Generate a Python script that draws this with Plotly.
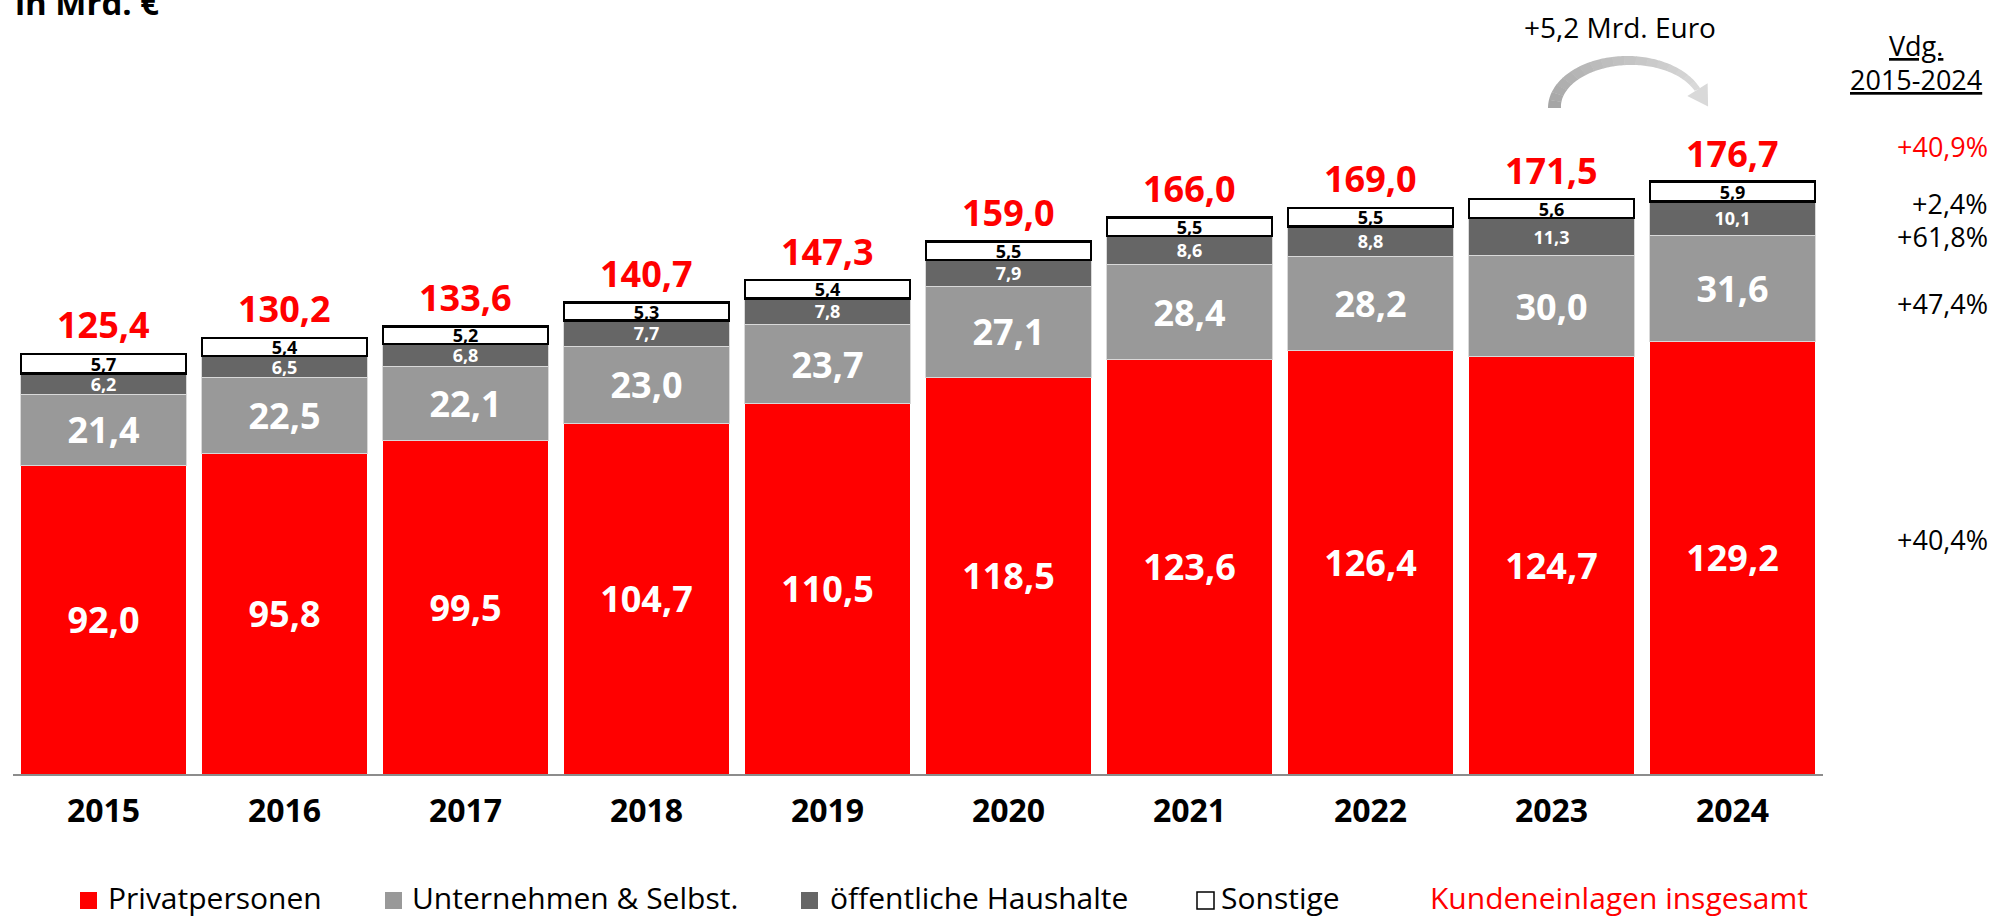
import math
import plotly.graph_objects as go

# ---------------- data ----------------
years = ["2015", "2016", "2017", "2018", "2019", "2020", "2021", "2022", "2023", "2024"]
privat = [92.0, 95.8, 99.5, 104.7, 110.5, 118.5, 123.6, 126.4, 124.7, 129.2]
unternehmen = [21.4, 22.5, 22.1, 23.0, 23.7, 27.1, 28.4, 28.2, 30.0, 31.6]
oeffentlich = [6.2, 6.5, 6.8, 7.7, 7.8, 7.9, 8.6, 8.8, 11.3, 10.1]
sonstige = [5.7, 5.4, 5.2, 5.3, 5.4, 5.5, 5.5, 5.5, 5.6, 5.9]
totals = [125.4, 130.2, 133.6, 140.7, 147.3, 159.0, 166.0, 169.0, 171.5, 176.7]
series_names = ["Privatpersonen", "Unternehmen & Selbst.", "öffentliche Haushalte", "Sonstige"]
total_name = "Kundeneinlagen insgesamt"
change_header = ["Vdg.", "2015-2024"]
change_labels = ["+40,9%", "+2,4%", "+61,8%", "+47,4%", "+40,4%"]
diff_label = "+5,2 Mrd. Euro"
unit_label = "in Mrd. €"

# ---------------- layout geometry ----------------
W, H = 1995, 917
L, R, T, B = 13, 172, 104, 143
PW, PH = W - L - R, H - T - B
YMAX = 200
FONT = "Open Sans"
RED = "#FF0000"
LGREY = "#999999"
DGREY = "#666666"


def pxx(x):
    return (x - L) / PW


def pxy(y):
    return (H - B - y) / PH


def fmt(v):
    return f"{v:.1f}".replace(".", ",")


fig = go.Figure()


def add_bar(vals, name, color, line_color, line_w, txt_color, txt_size):
    fig.add_trace(go.Bar(
        x=years, y=vals, name=name,
        marker=dict(color=color, line=dict(color=line_color, width=line_w)),
        text=[fmt(v) for v in vals], textposition="inside", insidetextanchor="middle",
        textangle=0, constraintext="none",
        textfont=dict(family=FONT, size=txt_size, color=txt_color, weight="bold"),
        hoverinfo="skip", showlegend=False,
    ))


add_bar(privat, series_names[0], RED, RED, 0, "white", 36)
add_bar(unternehmen, series_names[1], LGREY, "#d9d9d9", 1, "white", 36)
add_bar(oeffentlich, series_names[2], DGREY, "#d9d9d9", 1, "white", 18)
add_bar(sonstige, series_names[3], "white", "black", 2.5, "black", 18)

ann = []
# totals above bars
for i, tot in enumerate(totals):
    ann.append(dict(x=i, y=tot, xref="x", yref="y", text=fmt(tot), showarrow=False,
                    yanchor="middle", yshift=29,
                    font=dict(family=FONT, size=36, color=RED, weight="bold")))

# change column at right
change_py = [146, 203, 236, 303, 539]
for i, (lab, yy) in enumerate(zip(change_labels, change_py)):
    ann.append(dict(x=pxx(1990), y=pxy(yy), xref="paper", yref="paper", text=lab,
                    showarrow=False, xanchor="right", yanchor="middle",
                    font=dict(family=FONT, size=27, color=RED if i == 0 else "black")))
for lab, yy in zip(change_header, [45, 79]):
    ann.append(dict(x=pxx(1916), y=pxy(yy), xref="paper", yref="paper", text=lab,
                    showarrow=False, xanchor="center", yanchor="middle",
                    font=dict(family=FONT, size=27, color="black", lineposition="under")))

# unit label (clipped at top)
ann.append(dict(x=0, y=1, xref="paper", yref="paper", text=unit_label, showarrow=False,
                xanchor="left", yanchor="bottom", yshift=77,
                font=dict(family=FONT, size=33, color="black", weight="bold")))

# diff label
ann.append(dict(x=pxx(1620), y=pxy(27), xref="paper", yref="paper", text=diff_label,
                showarrow=False, xanchor="center", yanchor="middle",
                font=dict(family=FONT, size=28, color="black")))

shapes = []
# curved arrow with gradient
cx, cy, rxo, ryo = 1627, 108, 79, 52
th0, th1 = 180.0, 22.0
t0, t1 = 13.0, 6.0
N = 18
c0, c1 = (166, 166, 166), (217, 217, 217)


def arcpts(ta, tb, n=6):
    outer, inner = [], []
    for k in range(n + 1):
        th = ta + (tb - ta) * k / n
        f = (th0 - th) / (th0 - th1)
        t = t0 + (t1 - t0) * f
        r = math.radians(th)
        outer.append((cx + rxo * math.cos(r), cy - ryo * math.sin(r)))
        inner.append((cx + (rxo - t) * math.cos(r), cy - (ryo - t) * math.sin(r)))
    return outer + inner[::-1]


def path(pts):
    return "M " + " L ".join(f"{pxx(x):.5f},{pxy(y):.5f}" for x, y in pts) + " Z"


for s in range(N):
    ta = th0 + (th1 - th0) * s / N
    tb = th0 + (th1 - th0) * (s + 1.05) / N if s < N - 1 else th1
    f = s / (N - 1)
    col = "rgb(%d,%d,%d)" % tuple(int(c0[j] + (c1[j] - c0[j]) * f) for j in range(3))
    shapes.append(dict(type="path", xref="paper", yref="paper", path=path(arcpts(ta, tb)),
                       fillcolor=col, line=dict(width=0), layer="above"))
# arrow head
r = math.radians(th1)
a, b = rxo - t1 / 2, ryo - t1 / 2
mx, my = cx + a * math.cos(r), cy - b * math.sin(r)
tx, ty = a * math.sin(r), b * math.cos(r)
nl = math.hypot(tx, ty)
tx, ty = tx / nl, ty / nl
nx, ny = -ty, tx
head = [(mx + 12 * nx, my + 12 * ny), (mx + 20 * tx, my + 20 * ty), (mx - 12 * nx, my - 12 * ny)]
shapes.append(dict(type="path", xref="paper", yref="paper", path=path(head),
                   fillcolor="rgb(217,217,217)", line=dict(width=0), layer="above"))

# legend
leg_sq = [80, 385, 801, 1197]
leg_tx = [106, 410, 828, 1219]
leg_cols = [RED, LGREY, DGREY, "white"]
LEG_Y = 898
for sx, tx_, col, name in zip(leg_sq, leg_tx, leg_cols, series_names):
    shapes.append(dict(type="rect", xref="paper", yref="paper",
                       x0=pxx(sx), x1=pxx(sx + 17), y0=pxy(909), y1=pxy(892),
                       fillcolor=col, line=dict(color="black" if col == "white" else col,
                                                width=1.5 if col == "white" else 0)))
    ann.append(dict(x=pxx(tx_), y=pxy(LEG_Y), xref="paper", yref="paper", text=name,
                    showarrow=False, xanchor="left", yanchor="middle",
                    font=dict(family=FONT, size=30, color="black")))
ann.append(dict(x=pxx(1428), y=pxy(LEG_Y), xref="paper", yref="paper", text=total_name,
                showarrow=False, xanchor="left", yanchor="middle",
                font=dict(family=FONT, size=30, color=RED)))

fig.update_layout(
    width=W, height=H, margin=dict(l=L, r=R, t=T, b=B, autoexpand=False),
    barmode="stack", bargap=0.088,
    paper_bgcolor="white", plot_bgcolor="white",
    annotations=ann, shapes=shapes, showlegend=False,
    xaxis=dict(type="category", range=[-0.5, len(years) - 0.5], showline=True,
               linecolor="#8c8c8c", linewidth=2,
               ticks="", showgrid=False, zeroline=False, ticklabelstandoff=8,
               tickfont=dict(family=FONT, size=32, color="black", weight="bold")),
    yaxis=dict(range=[0, YMAX], visible=False),
)

fig.write_html("out.html", config=dict(displayModeBar=False),
               post_script="document.body.style.margin='0';document.body.style.overflow='hidden';")
